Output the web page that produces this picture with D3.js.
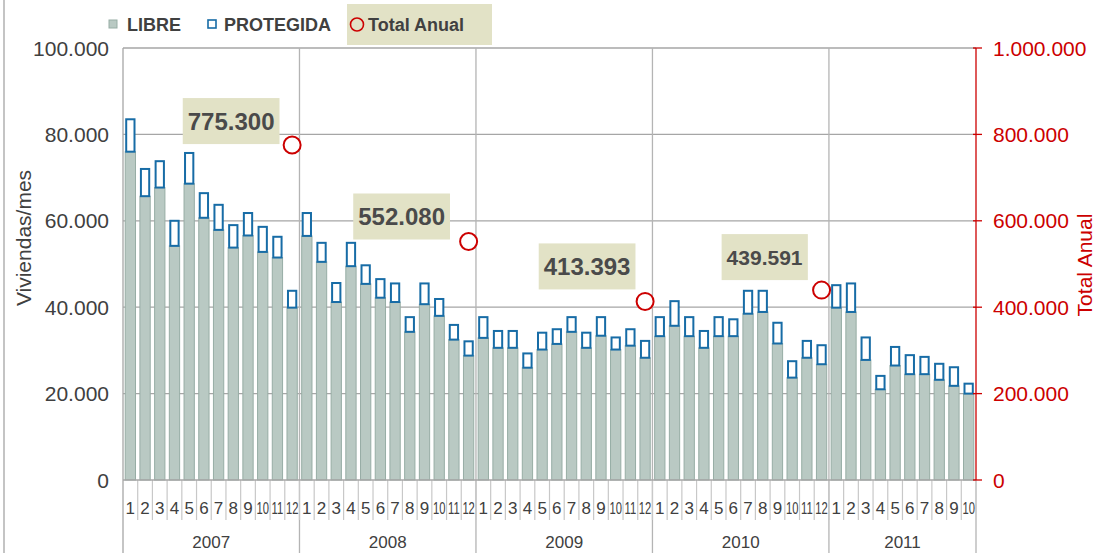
<!DOCTYPE html>
<html>
<head>
<meta charset="utf-8">
<title>Viviendas</title>
<script src="https://d3js.org/d3.v7.min.js"></script>
<style>
  body { margin: 0; background: #fff; }
  svg text { font-family: Arial, "Liberation Sans", sans-serif; }
  .tick-left { font-size: 21px; fill: #404040; }
  .tick-right { font-size: 21px; fill: #cc0000; }
  .month { font-size: 17px; fill: #404040; }
  .year { font-size: 17px; fill: #404040; }
  .legend text { font-size: 18px; font-weight: bold; fill: #404040; }
  .note text { font-weight: bold; fill: #4a4a4a; }
</style>
</head>
<body>
<script>

// months per year and years
var years = ["2007", "2008", "2009", "2010", "2011"];
var monthsPerYear = [12, 12, 12, 12, 10];

// viviendas libres / protegidas por mes
var libre = [
  76000, 65700, 67700, 54200, 68600, 60700, 57900, 53800, 56600, 52800, 51500, 39900,
  56500, 50500, 41200, 49500, 45400, 42200, 41200, 34300, 40700, 38000, 32500, 28800,
  32900, 30600, 30600, 26000, 30200, 31500, 34300, 30600, 33400, 30200, 31100, 28300,
  33300, 35700, 33300, 30600, 33300, 33300, 38500, 38900, 31600, 23700, 28300, 26800,
  39900, 38900, 27800, 21000, 26500, 24500, 24500, 23200, 21800, 20000
];
var protegida = [
  7500, 6300, 6100, 5800, 7100, 5700, 5800, 5200, 5200, 5800, 4800, 3900,
  5300, 4400, 4400, 5400, 4300, 4300, 4300, 3400, 4800, 3900, 3400, 3300,
  4800, 3900, 3900, 3300, 3900, 3400, 3400, 3500, 4300, 2800, 3800, 3900,
  4400, 5700, 4400, 3900, 4400, 3900, 5300, 4900, 4800, 3800, 3900, 4400,
  5200, 6600, 5200, 3100, 4300, 4400, 4000, 3700, 4300, 2300
];
// total anual (2007-2010)
var totalAnual = [775300, 552080, 413393, 439591];

var leftTicks = [0, 20000, 40000, 60000, 80000, 100000];
var rightTicks = [0, 200000, 400000, 600000, 800000, 1000000];

// label placement relative to the circle (px) and font size
var noteLayout = [
  {dx: -61, dy: -24, size: 24},
  {dx: -67, dy: -25, size: 24},
  {dx: -58, dy: -35, size: 24},
  {dx: -57, dy: -33, size: 21}
];

var width = 1097, height = 553;
var pLeft = 123, pRight = 976, pTop = 48, pBottom = 480;

var es = d3.formatLocale({decimal: ",", thousands: ".", grouping: [3], currency: ["", "€"]});
var fmt = es.format(",d");

// build month table
var rows = [];
years.forEach(function(yr, yi) {
  for (var m = 1; m <= monthsPerYear[yi]; m++) {
    var i = rows.length;
    rows.push({key: i, year: yr, yi: yi, month: m, libre: libre[i], protegida: protegida[i]});
  }
});

var x = d3.scaleBand()
    .domain(rows.map(function(d) { return d.key; }))
    .range([pLeft, pRight])
    .paddingInner(0.3)
    .paddingOuter(0.15);
var edge = function(i) { return pLeft + (pRight - pLeft) * i / rows.length; };

var y = d3.scaleLinear().domain([0, 100000]).range([pBottom, pTop]);
var y2 = d3.scaleLinear().domain([0, 1000000]).range([pBottom, pTop]);

var svg = d3.select("body").append("svg")
    .attr("width", width)
    .attr("height", height);

// outer left border
svg.append("line")
    .attr("x1", 4).attr("x2", 4).attr("y1", 0).attr("y2", height)
    .style("stroke", "#b0b0b0").style("stroke-width", 1.5);

// horizontal grid
svg.append("g").selectAll("line")
    .data(leftTicks.slice(1))
  .enter().append("line")
    .attr("x1", pLeft).attr("x2", pRight)
    .attr("y1", function(d) { return y(d); })
    .attr("y2", function(d) { return y(d); })
    .style("stroke", "#a6a6a6").style("stroke-width", 1.3);

// year separators (grid + category axis)
var yearStart = [];
var acc = 0;
monthsPerYear.forEach(function(n) { yearStart.push(acc); acc += n; });
yearStart.push(acc);

svg.append("g").selectAll("line")
    .data(yearStart.slice(1, -1))
  .enter().append("line")
    .attr("x1", function(d) { return edge(d); })
    .attr("x2", function(d) { return edge(d); })
    .attr("y1", pTop)
    .attr("y2", height)
    .style("stroke", "#b4b4b4")
    .style("stroke-width", 1.3);

// last category line below the plot
svg.append("line")
    .attr("x1", edge(rows.length)).attr("x2", edge(rows.length))
    .attr("y1", pBottom).attr("y2", height)
    .style("stroke", "#b4b4b4").style("stroke-width", 1.3);

// month separators
svg.append("g").selectAll("line")
    .data(d3.range(1, rows.length))
  .enter().append("line")
    .attr("x1", function(d) { return edge(d); })
    .attr("x2", function(d) { return edge(d); })
    .attr("y1", pBottom)
    .attr("y2", 520)
    .style("stroke", "#c8c8c8").style("stroke-width", 1.2);

// bars libre
svg.append("g").selectAll("rect")
    .data(rows)
  .enter().append("rect")
    .attr("x", function(d) { return x(d.key); })
    .attr("width", x.bandwidth())
    .attr("y", function(d) { return y(d.libre); })
    .attr("height", function(d) { return pBottom - y(d.libre); })
    .style("fill", "#b9c9c3")
    .style("stroke", "#97ada5")
    .style("stroke-width", 1);

// bars protegida
svg.append("g").selectAll("rect")
    .data(rows)
  .enter().append("rect")
    .attr("x", function(d) { return x(d.key) + 1; })
    .attr("width", x.bandwidth() - 2)
    .attr("y", function(d) { return y(d.libre + d.protegida); })
    .attr("height", function(d) { return y(d.libre) - y(d.libre + d.protegida); })
    .style("fill", "#fff")
    .style("stroke", "#176ca6")
    .style("stroke-width", 2);

// plot frame (left + bottom)
svg.append("line")
    .attr("x1", pLeft).attr("x2", pLeft).attr("y1", pTop).attr("y2", height)
    .style("stroke", "#a6a6a6").style("stroke-width", 1.3);
svg.append("line")
    .attr("x1", pLeft).attr("x2", pRight).attr("y1", pBottom).attr("y2", pBottom)
    .style("stroke", "#a6a6a6").style("stroke-width", 1.3);

// left axis labels
svg.append("g").selectAll("text")
    .data(leftTicks)
  .enter().append("text")
    .attr("class", "tick-left")
    .attr("x", 109)
    .attr("y", function(d) { return y(d); })
    .attr("dy", "0.36em")
    .attr("text-anchor", "end")
    .text(function(d) { return fmt(d); });

svg.append("text")
    .attr("class", "tick-left")
    .attr("transform", "translate(31,238) rotate(-90)")
    .attr("text-anchor", "middle")
    .text("Viviendas/mes");

// right axis
var ra = svg.append("g");
ra.append("line")
    .attr("x1", pRight).attr("x2", pRight).attr("y1", pTop).attr("y2", pBottom)
    .style("stroke", "#cc0000").style("stroke-width", 1.3);
ra.selectAll("line.t")
    .data(rightTicks)
  .enter().append("line")
    .attr("class", "t")
    .attr("x1", pRight - 3).attr("x2", pRight + 6)
    .attr("y1", function(d) { return y2(d); })
    .attr("y2", function(d) { return y2(d); })
    .style("stroke", "#cc0000").style("stroke-width", 1.3);
ra.selectAll("text")
    .data(rightTicks)
  .enter().append("text")
    .attr("class", "tick-right")
    .attr("x", 993)
    .attr("y", function(d) { return y2(d); })
    .attr("dy", "0.36em")
    .text(function(d) { return fmt(d); });

svg.append("text")
    .attr("class", "tick-right")
    .attr("transform", "translate(1092,265) rotate(-90)")
    .attr("text-anchor", "middle")
    .text("Total Anual");

// month labels (two-digit ones squeezed horizontally)
svg.append("g").selectAll("text")
    .data(rows)
  .enter().append("text")
    .attr("class", "month")
    .attr("transform", function(d) {
      var cx = x(d.key) + x.bandwidth() / 2;
      return "translate(" + cx + ",514)" + (d.month > 9 ? " scale(0.66,1)" : "");
    })
    .attr("text-anchor", "middle")
    .text(function(d) { return d.month; });

// year labels
svg.append("g").selectAll("text")
    .data(years)
  .enter().append("text")
    .attr("class", "year")
    .attr("x", function(d, i) { return (edge(yearStart[i]) + edge(yearStart[i + 1])) / 2; })
    .attr("y", 548)
    .attr("text-anchor", "middle")
    .text(function(d) { return d; });

// total anual circles and labels
var totals = totalAnual.map(function(t, i) {
  var last = rows.filter(function(r) { return r.yi === i; }).pop();
  return {total: t, cx: x(last.key) + x.bandwidth() / 2, cy: y2(t), lay: noteLayout[i]};
});

var notes = svg.append("g").attr("class", "note").selectAll("g")
    .data(totals)
  .enter().append("g");

notes.append("rect")
    .style("fill", "#e2e2c6");
notes.append("text")
    .attr("x", function(d) { return d.cx + d.lay.dx; })
    .attr("y", function(d) { return d.cy + d.lay.dy; })
    .attr("dy", "0.36em")
    .attr("text-anchor", "middle")
    .style("font-size", function(d) { return d.lay.size + "px"; })
    .text(function(d) { return fmt(d.total); });
notes.each(function(d) {
  var g = d3.select(this);
  var bb = g.select("text").node().getBBox();
  g.select("rect")
      .attr("x", bb.x - 5)
      .attr("width", bb.width + 10)
      .attr("y", d.cy + d.lay.dy - 23)
      .attr("height", 46);
});

svg.append("g").selectAll("circle")
    .data(totals)
  .enter().append("circle")
    .attr("cx", function(d) { return d.cx; })
    .attr("cy", function(d) { return d.cy; })
    .attr("r", 8.5)
    .style("fill", "#fff")
    .style("stroke", "#cc0000")
    .style("stroke-width", 2);

// legend
var legend = svg.append("g").attr("class", "legend");
legend.append("rect")
    .attr("x", 347).attr("y", 4).attr("width", 145).attr("height", 41)
    .style("fill", "#e2e2c6");
legend.append("rect")
    .attr("x", 109).attr("y", 20).attr("width", 8).attr("height", 8)
    .style("fill", "#b9c9c3").style("stroke", "#97ada5");
legend.append("text").attr("x", 127).attr("y", 31).text("LIBRE");
legend.append("rect")
    .attr("x", 208).attr("y", 20).attr("width", 8).attr("height", 8)
    .style("fill", "#fff").style("stroke", "#176ca6").style("stroke-width", 1.6);
legend.append("text").attr("x", 224).attr("y", 31).text("PROTEGIDA");
legend.append("circle")
    .attr("cx", 357).attr("cy", 24.5).attr("r", 6.5)
    .style("fill", "none").style("stroke", "#cc0000").style("stroke-width", 1.6);
legend.append("text").attr("x", 368).attr("y", 31).text("Total Anual");

</script>
</body>
</html>
